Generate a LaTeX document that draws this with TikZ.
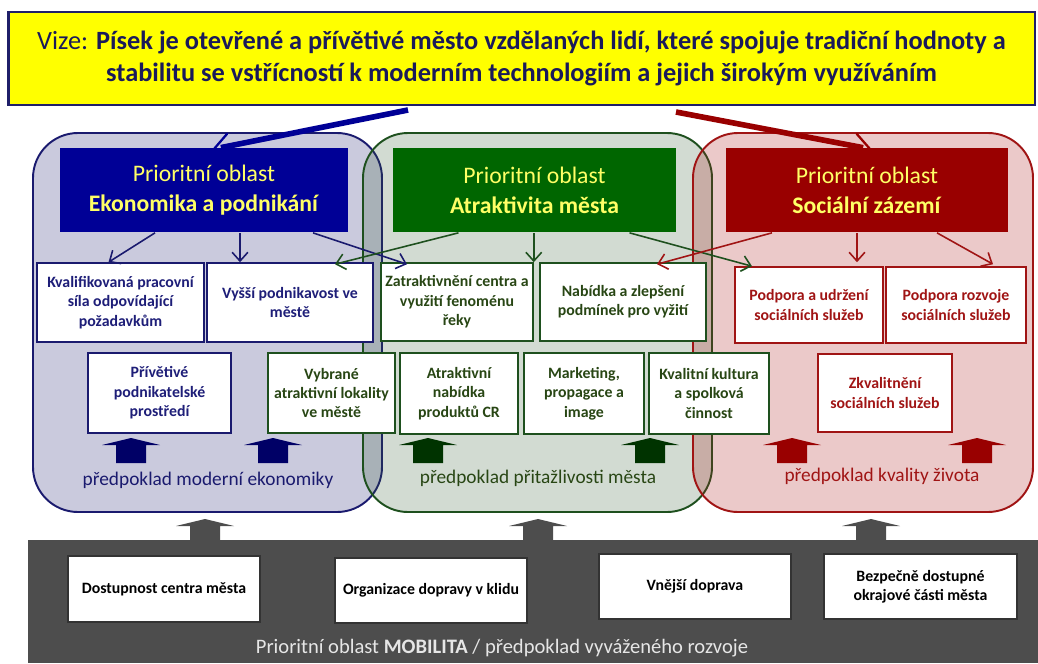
\documentclass[tikz,border=0pt]{standalone}
\usepackage{fontspec}
\setmainfont{Carlito}
\usepackage{tikz}
\usetikzlibrary{calc, arrows.meta}

\definecolor{visionFill}{RGB}{255,255,0}
\definecolor{visionLine}{RGB}{31,31,105}
\definecolor{visionText}{RGB}{26,26,90}
\definecolor{headText}{RGB}{255,255,102}
\definecolor{ecoDark}{RGB}{0,0,150}
\definecolor{ecoLine}{RGB}{26,26,110}
\definecolor{ecoText}{RGB}{30,30,120}
\definecolor{ecoArrow}{RGB}{0,0,102}
\definecolor{ecoPanel}{RGB}{60,60,130}
\definecolor{attrDark}{RGB}{0,102,0}
\definecolor{attrLine}{RGB}{30,80,30}
\definecolor{attrText}{RGB}{40,70,20}
\definecolor{attrArrow}{RGB}{0,51,0}
\definecolor{attrPanel}{RGB}{50,90,50}
\definecolor{socDark}{RGB}{153,0,0}
\definecolor{socLine}{RGB}{160,20,20}
\definecolor{socText}{RGB}{160,20,20}
\definecolor{socPanel}{RGB}{170,30,30}
\definecolor{mobGrey}{RGB}{77,77,77}
\definecolor{mobText}{RGB}{230,230,230}

% flat-headed block arrow, #1 = tip
\newcommand{\blockup}[2]{%
	\fill[#2] (#1) -- ++(29,7) -- ++(-14,0) -- ++(0,18) -- ++(-30,0) -- ++(0,-18) -- ++(-14,0) -- cycle;
}

\begin{document}
\begin{tikzpicture}[
							x = 0.02cm,
							y = -0.02cm,
							vision/.style = {
								draw = visionLine,
								fill = visionFill,
								line width = 1.6pt,
								minimum width = 20.54cm,
								minimum height = 1.86cm,
								text = visionText,
								font = \fontsize{15}{18}\selectfont,
								align = center,
							},
							panel/.style = {
								rounded corners = 0.9cm,
								line width = 1.1pt,
							},
							head/.style = {
								rectangle,
								minimum height = 1.7cm,
								text = headText,
								font = \fontsize{13.5}{17}\selectfont,
								align = center,
							},
							box/.style = {
								draw,
								fill = white,
								line width = 0.9pt,
								inner sep = 1pt,
								font = \fontsize{9}{11}\selectfont\bfseries,
								align = center,
							},
							note/.style = {
								font = \fontsize{11}{13}\selectfont,
							},
							link/.style = {
								line width = 0.9pt,
								-{Straight Barb[length = 5pt, width = 9pt]},
							},
							beam/.style = {
								line width = 3.2pt,
							},
							barb/.style = {
								line width = 1.3pt,
								line cap = round,
							}
						]
					\useasboundingbox (0,0) rectangle (1038,663);

					% three priority areas
					\draw[panel, draw = ecoLine, fill = ecoPanel, fill opacity = 0.27] (33,133) rectangle (382,512);
					\draw[panel, draw = attrLine, fill = attrPanel, fill opacity = 0.22] (363,133) rectangle (712,512);
					\draw[panel, draw = socLine, fill = socPanel, fill opacity = 0.24] (693,133) rectangle (1033,512);

					\node [vision] (vision) at (521.5,58.5) {Vize: \textbf{Písek je otevřené a přívětivé město vzdělaných lidí, které spojuje tradiční hodnoty a}\\\textbf{stabilitu se vstřícností k moderním technologiím a jejich širokým využíváním}};

					\node [head, fill = ecoDark, minimum width = 5.76cm] (ecoHead) at (204,190) {Prioritní oblast\\\textbf{Ekonomika a podnikání}};
					\node [head, fill = attrDark, minimum width = 5.66cm] (attrHead) at (534.5,190) {Prioritní oblast\\\textbf{Atraktivita města}};
					\node [head, fill = socDark, minimum width = 5.64cm] (socHead) at (867,190) {Prioritní oblast\\\textbf{Sociální zázemí}};

					% first row of goals
					\node [box, draw = ecoLine, text = ecoText, minimum width = 3.34cm, minimum height = 1.58cm] (kvalif) at (120.5,302.5) {Kvalifikovaná pracovní\\síla odpovídající\\požadavkům};
					\node [box, draw = ecoLine, text = ecoText, minimum width = 3.32cm, minimum height = 1.58cm] (vyssi) at (290,302.5) {Vyšší podnikavost ve\\městě};
					\node [box, draw = attrLine, text = attrText, minimum width = 3.04cm, minimum height = 1.56cm] (zatrakt) at (457,302) {Zatraktivnění centra a\\využití fenoménu\\řeky};
					\node [box, draw = attrLine, text = attrText, minimum width = 3.32cm, minimum height = 1.56cm] (nabidka) at (623,302) {Nabídka a zlepšení\\podmínek pro vyžití};
					\node [box, draw = socLine, text = socText, minimum width = 2.96cm, minimum height = 1.52cm] (podporaUdrz) at (809,305) {Podpora a udržení\\sociálních služeb};
					\node [box, draw = socLine, text = socText, minimum width = 2.80cm, minimum height = 1.52cm] (podporaRozv) at (956,305) {Podpora rozvoje\\sociálních služeb};

					% second row of goals
					\node [box, draw = ecoLine, text = ecoText, minimum width = 2.86cm, minimum height = 1.6cm] (privetive) at (159.5,393) {Přívětivé\\podnikatelské\\prostředí};
					\node [box, draw = attrLine, text = attrText, minimum width = 2.54cm, minimum height = 1.6cm] (vybrane) at (331.5,393) {Vybrané\\atraktivní lokality\\ve městě};
					\node [box, draw = attrLine, text = attrText, minimum width = 2.36cm, minimum height = 1.62cm] (atraktivni) at (459,393.5) {Atraktivní\\nabídka\\produktů CR};
					\node [box, draw = attrLine, text = attrText, minimum width = 2.40cm, minimum height = 1.62cm] (marketing) at (584,393.5) {Marketing,\\propagace a\\image};
					\node [box, draw = attrLine, text = attrText, minimum width = 2.40cm, minimum height = 1.62cm] (kultura) at (709,393.5) {Kvalitní kultura\\a spolková\\činnost};
					\node [box, draw = socLine, text = socText, minimum width = 2.68cm, minimum height = 1.56cm] (zkvalitneni) at (885,393) {Zkvalitnění\\sociálních služeb};

					\draw[link, ecoLine] ($(ecoHead.south)+(-49,0)$) to ($(kvalif.north)+(-12,0)$);
					\draw[link, ecoLine] ($(ecoHead.south)+(36,0)$) to ($(vyssi.north)+(-50,0)$);
					\draw[link, ecoLine] ($(ecoHead.south)+(109,0)$) to ($(zatrakt.north)+(-50,2)$);

					\draw[link, attrLine] ($(attrHead.south)+(-76,0)$) to ($(vyssi.north)+(45,2)$);
					\draw[link, attrLine] (attrHead.south -| zatrakt.north east) to (zatrakt.north east);
					\draw[link, attrLine] ($(attrHead.south)+(95,0)$) to ($(podporaUdrz.north)+(-57,0)$);

					\draw[link, socLine] ($(socHead.south)+(-95,0)$) to ($(nabidka.north)+(34,2)$);
					\draw[link, socLine] ($(socHead.south)+(-10,0)$) to ($(podporaUdrz.north)+(48,-4)$);
					\draw[link, socLine] ($(socHead.south)+(70,0)$) to ($(podporaRozv.north)+(37,-2)$);

					% preconditions of each area
					\blockup{131,438}{ecoArrow}
					\blockup{273,438}{ecoArrow}
					\blockup{428,438}{attrArrow}
					\blockup{650,438}{attrArrow}
					\blockup{792,438}{socDark}
					\blockup{977,438}{socDark}

					\node [note, text = ecoLine] (ecoNote) at (208,480) {předpoklad moderní ekonomiky};
					\node [note, text = attrText] (attrNote) at (538,478) {předpoklad přitažlivosti města};
					\node [note, text = socText] (socNote) at (882,476) {předpoklad kvality života};

					% mobility bar underneath
					\fill[mobGrey] (28,540) rectangle (1038,663);
					\blockup{205,519}{mobGrey}
					\blockup{538,519}{mobGrey}
					\blockup{871,519}{mobGrey}

					\node [box, draw = black!80, text = black, minimum width = 3.84cm, minimum height = 1.32cm] (dostupnost) at (164,589) {Dostupnost centra města};
					\node [box, draw = black!80, text = black, minimum width = 3.84cm, minimum height = 1.3cm] (organizace) at (431,590.5) {Organizace dopravy v klidu};
					\node [box, draw = black!80, text = black, minimum width = 3.84cm, minimum height = 1.3cm] (vnejsi) at (695,586.5) {Vnější doprava};
					\node [box, draw = black!80, text = black, minimum width = 3.86cm, minimum height = 1.3cm] (bezpecne) at (920.5,586.5) {Bezpečně dostupné\\okrajové části města};

					\node [note, text = mobText, font = \fontsize{11.7}{14}\selectfont] (mobLabel) at (502,648) {Prioritní oblast \textbf{MOBILITA} / předpoklad vyváženého rozvoje};

					% vision feeds the outer areas
					\coordinate (ecoFoot) at (408,110);
					\coordinate (ecoTip) at (214,149);
					\coordinate (socFoot) at (676,112);
					\coordinate (socTip) at (870,149);
					\draw[beam, ecoDark] (ecoFoot) -- ($(ecoTip)!4pt!(ecoFoot)$);
					\draw[barb, ecoDark] ($(ecoTip)!9pt!(ecoFoot)!7pt!90:(ecoFoot)$) -- (ecoTip) -- ($(ecoTip)!9pt!(ecoFoot)!7pt!-90:(ecoFoot)$);
					\draw[beam, socDark] (socFoot) -- ($(socTip)!4pt!(socFoot)$);
					\draw[barb, socDark] ($(socTip)!9pt!(socFoot)!7pt!90:(socFoot)$) -- (socTip) -- ($(socTip)!9pt!(socFoot)!7pt!-90:(socFoot)$);
				\end{tikzpicture}
\end{document}
